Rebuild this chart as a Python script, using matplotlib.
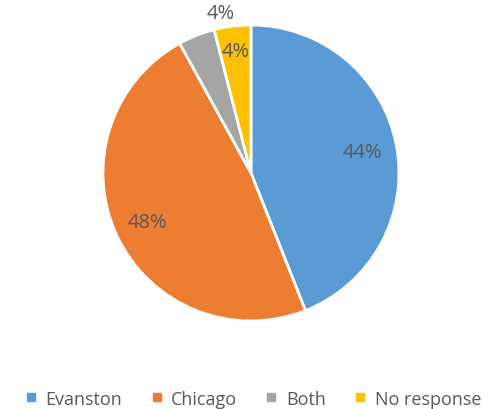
import numpy as np
import matplotlib
matplotlib.use("Agg")
import matplotlib.pyplot as plt
from matplotlib.lines import Line2D

# Données
categories = ["Evanston", "Chicago", "Both", "No response"]
valeurs = [44, 48, 4, 4]
couleurs = ["#5B9BD5", "#ED7D31", "#A5A5A5", "#FFC000"]
texte_gris = "#595959"

plt.rcParams['font.family'] = ['Open Sans', 'DejaVu Sans']

fig = plt.figure(figsize=(4.95, 4.10), dpi=100)
ax = fig.add_axes([0.208, 0.2146, 0.598, 0.722])

wedges, textes, pcts = ax.pie(valeurs, colors=couleurs, startangle=90, counterclock=False,
                              autopct='%1.0f%%', pctdistance=0.77,
                              wedgeprops=dict(edgecolor='white', linewidth=2),
                              textprops=dict(color=texte_gris, fontsize=14.5))
ax.set_xlim(-1, 1)
ax.set_ylim(-1, 1)
ax.set_aspect('equal')

# étiquette "Both" placée à l'extérieur, au-dessus
w = wedges[2]
ang = np.deg2rad(w.theta1 - 3.7)
pcts[2].set_position((1.1 * np.cos(ang), 1.1 * np.sin(ang)))
# "No response" un peu plus haut
w = wedges[3]
ang = np.deg2rad((w.theta1 + w.theta2) / 2)
pcts[3].set_position((0.83 * np.cos(ang), 0.83 * np.sin(ang)))

# Légende
poignees = [Line2D([0], [0], marker='s', linestyle='', markersize=6,
                   markerfacecolor=c, markeredgecolor=c) for c in couleurs]
fig.legend(poignees, categories, loc='center', bbox_to_anchor=(0.51, 0.025),
           ncol=4, frameon=False, fontsize=13, labelcolor=texte_gris,
           handlelength=0.8, handletextpad=0.4, columnspacing=1.5)

fig.savefig("out.png", dpi=100)
